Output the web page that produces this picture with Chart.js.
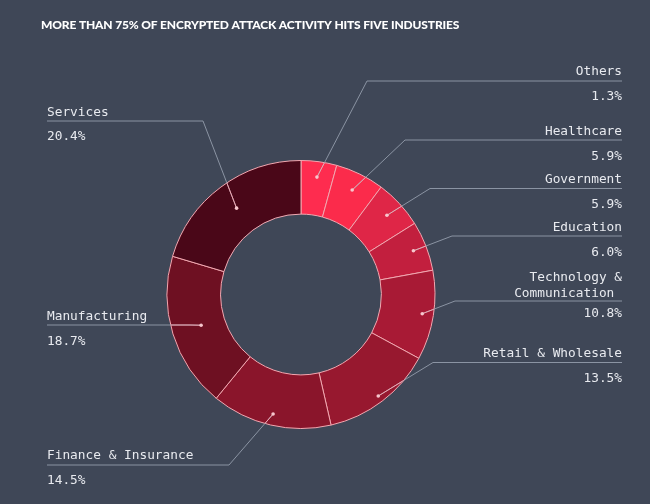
<!DOCTYPE html>
<html>
<head>
<meta charset="utf-8">
<style>
    html, body { margin: 0; padding: 0; background: #3f4757; }
    #wrap { width: 650px; height: 504px; }
</style>
<script src="https://cdn.jsdelivr.net/npm/chart.js@4/dist/chart.umd.min.js"></script>
</head>
<body>
<div id="wrap"><canvas id="industryChart" width="650" height="504"></canvas></div>
<script>
// industries, clockwise from 12 o'clock
const categories = ['Others', 'Healthcare', 'Government', 'Education', ['Technology &', 'Communication '], 'Retail & Wholesale', 'Finance & Insurance', 'Manufacturing', 'Services'];
// percentages printed next to each industry
const reportedPct = [1.3, 5.9, 5.9, 6.0, 10.8, 13.5, 14.5, 18.7, 20.4];
// slice sizes as drawn in the picture (the "Others" slice is drawn bigger than its label)
const drawnShare = [4.3, 5.9, 5.9, 6.0, 10.8, 13.5, 14.5, 18.7, 20.4];
const sliceColors = ['#fe2c4f', '#fb2b4b', '#df2647', '#c21f3e', '#a81a35', '#97182f', '#8a152b', '#6e1022', '#4a0718'];

const titleText = 'MORE THAN 75% OF ENCRYPTED ATTACK ACTIVITY HITS FIVE INDUSTRIES';

// where each callout goes (same order as categories)
const labelLayout = [
    { side: 'right', nameY: [70], lineY: 81, pctY: 95, kneeX: 367, depth: 0.71 },
    { side: 'right', nameY: [130], lineY: 140, pctY: 155, kneeX: 405, depth: 0.67 },
    { side: 'right', nameY: [178], lineY: 188.5, pctY: 203, kneeX: 430, depth: 0.68 },
    { side: 'right', nameY: [226], lineY: 236, pctY: 251, kneeX: 452, depth: 0.75 },
    { side: 'right', nameY: [276, 292], lineY: 301, pctY: 312.5, kneeX: 455, depth: 0.79 },
    { side: 'right', nameY: [352], lineY: 362.5, pctY: 377, kneeX: 433, depth: 0.88 },
    { side: 'left', nameY: [454], lineY: 465, pctY: 479, kneeX: 229, depth: 0.79 },
    { side: 'left', nameY: [315], lineY: 325, pctY: 340, kneeX: 190, depth: 0.45 },
    { side: 'left', nameY: [110.7], lineY: 121, pctY: 135, kneeX: 203, depth: 0.51 }
];

const LEFT_X = 47;
const RIGHT_X = 622;
const TEXT_NUDGE = 1.5; // canvas 'middle' sits a bit high for this font
const MONO = '12.8px "DejaVu Sans Mono", monospace';

document.addEventListener('DOMContentLoaded', () => {
    const bgPlugin = {
        id: 'bg',
        beforeDraw(chart) {
            const ctx = chart.ctx;
            ctx.save();
            ctx.fillStyle = '#3f4757';
            ctx.fillRect(0, 0, chart.width, chart.height);
            ctx.restore();
        }
    };

    const titlePlugin = {
        id: 'titleText',
        afterDraw(chart) {
            const ctx = chart.ctx;
            ctx.save();
            ctx.font = '900 12px Lato, sans-serif';
            ctx.fillStyle = '#ffffff';
            ctx.textBaseline = 'middle';
            ctx.textAlign = 'left';
            // stretch letter spacing so the title spans the same width as in the picture
            ctx.letterSpacing = '0px';
            const plain = ctx.measureText(titleText).width;
            const spacing = (418 - plain) / titleText.length;
            ctx.letterSpacing = spacing.toFixed(2) + 'px';
            ctx.fillText(titleText, 41, 25);
            ctx.restore();
        }
    };

    const calloutPlugin = {
        id: 'callouts',
        afterDatasetsDraw(chart) {
            const ctx = chart.ctx;
            const arcs = chart.getDatasetMeta(0).data;
            const first = arcs[0];
            const cx = first.x, cy = first.y;
            const rOut = first.outerRadius, rIn = first.innerRadius;

            const paths = arcs.map((arc, i) => {
                const lay = labelLayout[i];
                const mid = (arc.startAngle + arc.endAngle) / 2;
                const r = arc.innerRadius + (arc.outerRadius - arc.innerRadius) * lay.depth;
                const dot = { x: arc.x + Math.cos(mid) * r, y: arc.y + Math.sin(mid) * r };
                const endX = lay.side === 'right' ? RIGHT_X : LEFT_X;
                return { dot, knee: { x: lay.kneeX, y: lay.lineY }, end: { x: endX, y: lay.lineY } };
            });

            function strokePaths(color) {
                ctx.strokeStyle = color;
                ctx.lineWidth = 1;
                paths.forEach(p => {
                    ctx.beginPath();
                    ctx.moveTo(p.dot.x, p.dot.y);
                    ctx.lineTo(p.knee.x, p.knee.y);
                    ctx.lineTo(p.end.x, p.end.y);
                    ctx.stroke();
                });
            }

            ctx.save();
            strokePaths('#8b94a3');
            ctx.restore();

            // the part of a leader line inside the ring is drawn pink
            ctx.save();
            ctx.beginPath();
            ctx.arc(cx, cy, rOut, 0, Math.PI * 2);
            ctx.arc(cx, cy, rIn, 0, Math.PI * 2, true);
            ctx.clip('evenodd');
            strokePaths('#f3a3ae');
            ctx.restore();

            ctx.save();
            ctx.fillStyle = '#f7c6cd';
            paths.forEach(p => {
                ctx.beginPath();
                ctx.arc(p.dot.x, p.dot.y, 1.8, 0, Math.PI * 2);
                ctx.fill();
            });
            ctx.restore();

            // label texts
            ctx.save();
            ctx.font = MONO;
            ctx.fillStyle = '#e8eaef';
            ctx.textBaseline = 'middle';
            categories.forEach((name, i) => {
                const lay = labelLayout[i];
                const lines = Array.isArray(name) ? name : [name];
                ctx.textAlign = lay.side === 'right' ? 'right' : 'left';
                const x = lay.side === 'right' ? RIGHT_X : LEFT_X;
                lines.forEach((txt, k) => {
                    ctx.fillText(txt, x, lay.nameY[k] + TEXT_NUDGE);
                });
                ctx.fillText(reportedPct[i].toFixed(1) + '%', x, lay.pctY + TEXT_NUDGE);
            });
            ctx.restore();
        }
    };

    const ctx = document.getElementById('industryChart').getContext('2d');
    new Chart(ctx, {
        type: 'doughnut',
        data: {
            labels: categories.map(c => Array.isArray(c) ? c.join(' ').trim() : c),
            datasets: [{
                data: drawnShare,
                backgroundColor: sliceColors,
                borderColor: '#f2a7b0',
                borderWidth: 1,
                borderAlign: 'center'
            }]
        },
        options: {
            responsive: false,
            animation: false,
            devicePixelRatio: 1,
            cutout: '60%',
            layout: {
                padding: { left: 166, right: 214, top: 160, bottom: 75 }
            },
            plugins: {
                legend: { display: false },
                tooltip: { enabled: false },
                title: { display: false }
            }
        },
        plugins: [bgPlugin, calloutPlugin, titlePlugin]
    });
});
</script>
</body>
</html>
